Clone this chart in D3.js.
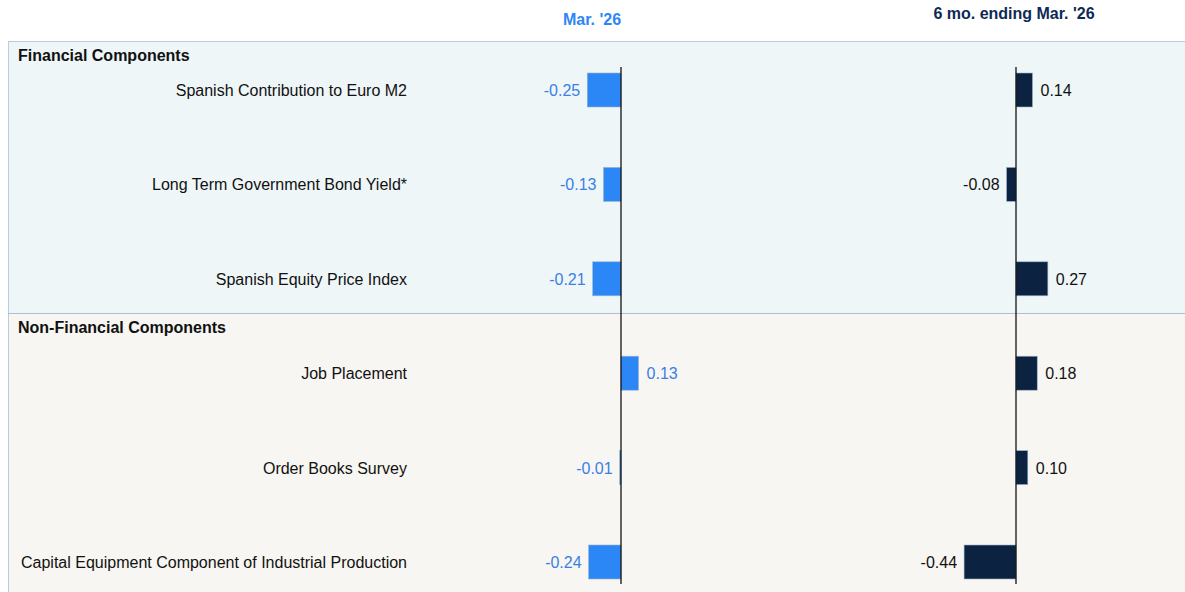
<!DOCTYPE html>
<html lang="en">
<head>
  <meta charset="UTF-8">
  <title>Spanish Leading Indicator Contributions</title>
  <script src="https://d3js.org/d3.v7.min.js"></script>
  <style>
    body {
      margin: 0;
      background: #ffffff;
      font-family: "Liberation Sans", Arial, sans-serif;
    }
    text {
      font-family: "Liberation Sans", Arial, sans-serif;
    }
  </style>
</head>
<body>
<svg width="1185" height="592"></svg>

<script>
  // data
  const components = [
    "Spanish Contribution to Euro M2",
    "Long Term Government Bond Yield*",
    "Spanish Equity Price Index",
    "Job Placement",
    "Order Books Survey",
    "Capital Equipment Component of Industrial Production"
  ];
  const monthValues = [-0.25, -0.13, -0.21, 0.13, -0.01, -0.24];
  const sixMonthValues = [0.14, -0.08, 0.27, 0.18, 0.10, -0.44];
  const sections = ["Financial Components", "Non-Financial Components"];
  const seriesTitles = ["Mar. '26", "6 mo. ending Mar. '26"];

  const svg = d3.select("svg");
  const width = +svg.attr("width");
  const height = +svg.attr("height");

  const blue = "#2b86f6";
  const navy = "#0b2341";

  // row positions
  const y = d3.scalePoint()
    .domain(components)
    .range([90, 562]);
  const barH = 34;

  // section panels
  const panelTop = [41, 313];
  const panelBottom = [313, height + 2];
  const panelFill = ["#eef6f8", "#f7f6f2"];

  sections.forEach((s, i) => {
    svg.append("rect")
      .attr("x", 8.5)
      .attr("y", panelTop[i] + 0.5)
      .attr("width", width)
      .attr("height", panelBottom[i] - panelTop[i])
      .attr("fill", panelFill[i])
      .attr("stroke", "#7d9fc6")
      .attr("stroke-width", 1)
      .attr("stroke-dasharray", "1,1");

    svg.append("text")
      .attr("x", 18)
      .attr("y", panelTop[i] + 20)
      .attr("font-size", "16px")
      .attr("font-weight", "bold")
      .attr("fill", "#111")
      .text(s);
  });

  // scales for the two columns
  const xLeft = d3.scaleLinear().domain([0, 1]).range([621, 621 + 135]);
  const xRight = d3.scaleLinear().domain([0, 1]).range([1016, 1016 + 118]);

  // category labels
  svg.selectAll(".cat-label")
    .data(components)
    .enter()
    .append("text")
    .attr("class", "cat-label")
    .attr("x", 407)
    .attr("y", d => y(d) + 6)
    .attr("text-anchor", "end")
    .attr("font-size", "16px")
    .attr("fill", "#111")
    .text(d => d);

  function drawColumn(values, x, color, labelColor, title, titleY, titleColor, titleX) {
    const g = svg.append("g");

    g.selectAll("rect")
      .data(values)
      .enter()
      .append("rect")
      .attr("x", d => x(Math.min(0, d)))
      .attr("y", (d, i) => y(components[i]) - barH / 2)
      .attr("width", d => Math.abs(x(d) - x(0)))
      .attr("height", barH)
      .attr("fill", color)
      .attr("stroke", "#9fb4c8")
      .attr("stroke-width", 0.6);

    g.selectAll("text.val")
      .data(values)
      .enter()
      .append("text")
      .attr("class", "val")
      .attr("x", d => d < 0 ? x(d) - 7 : x(d) + 8)
      .attr("y", (d, i) => y(components[i]) + 6)
      .attr("text-anchor", d => d < 0 ? "end" : "start")
      .attr("font-size", "16px")
      .attr("fill", labelColor)
      .text(d => d.toFixed(2));

    // zero line
    g.append("line")
      .attr("x1", x(0))
      .attr("x2", x(0))
      .attr("y1", 67)
      .attr("y2", 584)
      .attr("stroke", "#000")
      .attr("stroke-width", 1.2);

    svg.append("text")
      .attr("x", titleX)
      .attr("y", titleY)
      .attr("text-anchor", "middle")
      .attr("font-size", "16px")
      .attr("font-weight", "bold")
      .attr("fill", titleColor)
      .text(title);
  }

  drawColumn(monthValues, xLeft, blue, "#3a7fe6", seriesTitles[0], 25, "#2e86f5", 592);
  drawColumn(sixMonthValues, xRight, navy, "#111", seriesTitles[1], 19, "#0d2a55", 1014);
</script>

</body>
</html>
